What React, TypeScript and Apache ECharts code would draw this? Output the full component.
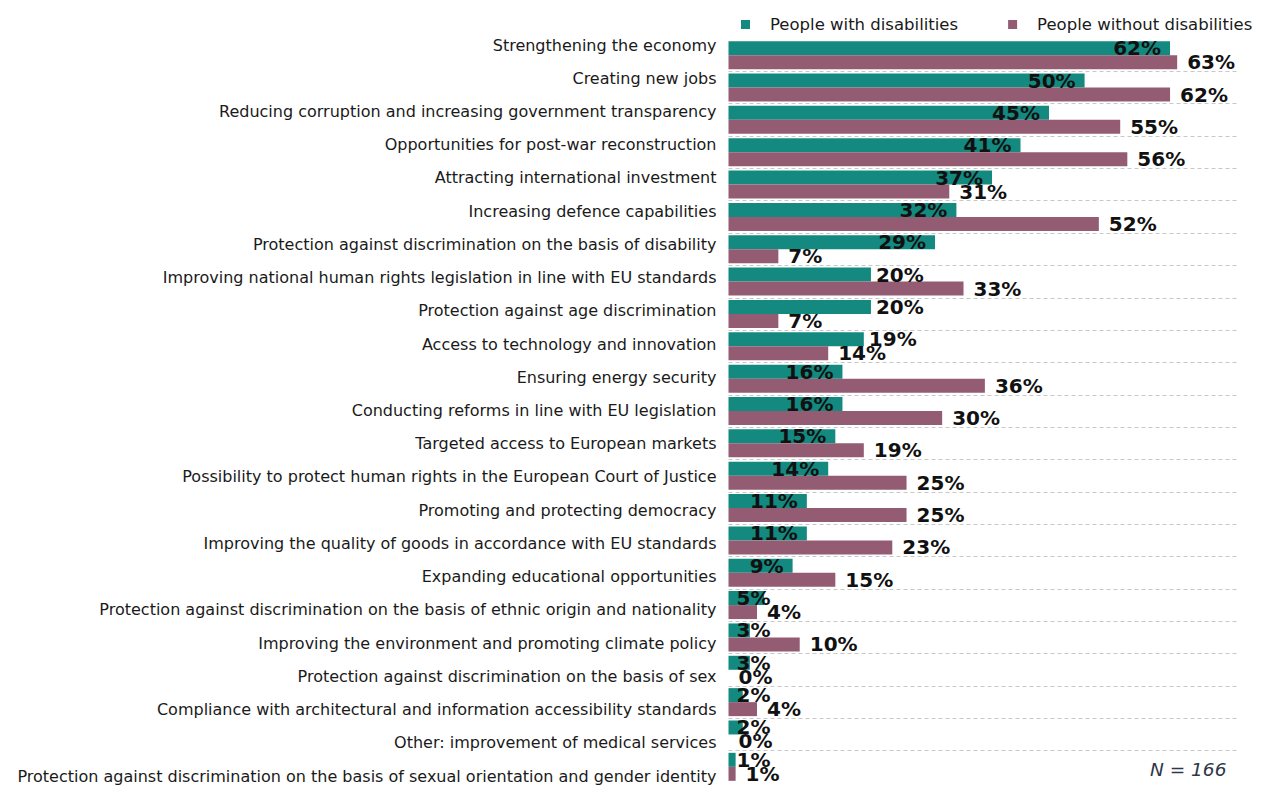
import React, { useEffect, useRef } from "react";
import * as echarts from "echarts";

const categories = [
  "Strengthening the economy",
  "Creating new jobs",
  "Reducing corruption and increasing government transparency",
  "Opportunities for post-war reconstruction",
  "Attracting international investment",
  "Increasing defence capabilities",
  "Protection against discrimination on the basis of disability",
  "Improving national human rights legislation in line with EU standards",
  "Protection against age discrimination",
  "Access to technology and innovation",
  "Ensuring energy security",
  "Conducting reforms in line with EU legislation",
  "Targeted access to European markets",
  "Possibility to protect human rights in the European Court of Justice",
  "Promoting and protecting democracy",
  "Improving the quality of goods in accordance with EU standards",
  "Expanding educational opportunities",
  "Protection against discrimination on the basis of ethnic origin and nationality",
  "Improving the environment and promoting climate policy",
  "Protection against discrimination on the basis of sex",
  "Compliance with architectural and information accessibility standards",
  "Other: improvement of medical services",
  "Protection against discrimination on the basis of sexual orientation and gender identity",
];

const withDisabilities = [62, 50, 45, 41, 37, 32, 29, 20, 20, 19, 16, 16, 15, 14, 11, 11, 9, 5, 3, 3, 2, 2, 1];
const withoutDisabilities = [63, 62, 55, 56, 31, 52, 7, 33, 7, 14, 36, 30, 19, 25, 25, 23, 15, 4, 10, 0, 4, 0, 1];

const legendNames = ["People with disabilities", "People without disabilities"];
const sampleNote = "N = 166";

// teal labels drawn outside the bar end (as in the source chart)
const OUTSIDE_LABELS = new Set([7, 8, 9]);

export default function App() {
  const ref = useRef<HTMLDivElement>(null);
  useEffect(() => {
    document.body.style.margin = "0";
    const chart = echarts.init(ref.current!, null, { renderer: "svg" });
    const font = "DejaVu Sans";
    const teal = "#13897f";
    const mauve = "#945c72";

    const tealData = withDisabilities.map((v, i) => {
      let label: any;
      if (OUTSIDE_LABELS.has(i)) label = { position: "right", distance: 5 };
      else if (v <= 5) label = { position: "insideLeft", distance: 8 };
      else label = { position: "insideRight", distance: 9 };
      return { value: v, label };
    });

    const labelStyle = {
      show: true,
      formatter: "{c}%",
      color: "#111",
      fontFamily: font,
      fontWeight: "bold",
      fontSize: 20,
    };

    chart.setOption({
      animation: false,
      legend: {
        data: legendNames,
        left: 736,
        top: 11,
        icon: "rect",
        itemWidth: 9,
        itemHeight: 9,
        itemGap: 50,
        textStyle: { fontFamily: font, fontSize: 16.5, color: "#1a1a1a", padding: [0, 0, 0, 15] },
      },
      grid: [
        { left: 728.5, right: 27, top: 39, bottom: 4, containLabel: false },
        { left: 728.5, right: 27, top: 45, height: 731, containLabel: false },
      ],
      xAxis: [
        { type: "value", gridIndex: 0, min: 0, max: 71.4, show: false },
        { type: "value", gridIndex: 1, min: 0, max: 71.4, show: false },
      ],
      yAxis: [
        {
          type: "category",
          gridIndex: 0,
          inverse: true,
          data: categories,
          axisLine: { show: false },
          axisTick: { show: false },
          axisLabel: { show: false },
          splitLine: {
            show: true,
            showMinLine: false,
            showMaxLine: false,
            lineStyle: { color: "#c8c8c8", type: [4, 3], width: 1 },
          },
        },
        {
          type: "category",
          gridIndex: 1,
          inverse: true,
          boundaryGap: false,
          data: categories,
          axisLine: { show: false },
          axisTick: { show: false },
          splitLine: { show: false },
          axisLabel: {
            fontFamily: font,
            fontSize: 16,
            color: "#1a1a1a",
            margin: 12,
            interval: 0,
          },
        },
      ],
      series: [
        {
          name: legendNames[0],
          type: "bar",
          xAxisIndex: 0,
          yAxisIndex: 0,
          barWidth: 14,
          barGap: "0%",
          itemStyle: { color: teal },
          label: { ...labelStyle },
          data: tealData,
        },
        {
          name: legendNames[1],
          type: "bar",
          xAxisIndex: 0,
          yAxisIndex: 0,
          barWidth: 14,
          itemStyle: { color: mauve },
          label: { ...labelStyle, position: "right", distance: 10 },
          data: withoutDisabilities,
        },
      ],
      graphic: [
        {
          type: "text",
          left: 1150,
          top: 760,
          style: {
            text: sampleNote,
            fontFamily: font,
            fontStyle: "italic",
            fontSize: 18.5,
            fill: "#2e3648",
          },
        },
      ],
    });
    return () => chart.dispose();
  }, []);
  return <div ref={ref} style={{ width: 1264, height: 787 }} />;
}
